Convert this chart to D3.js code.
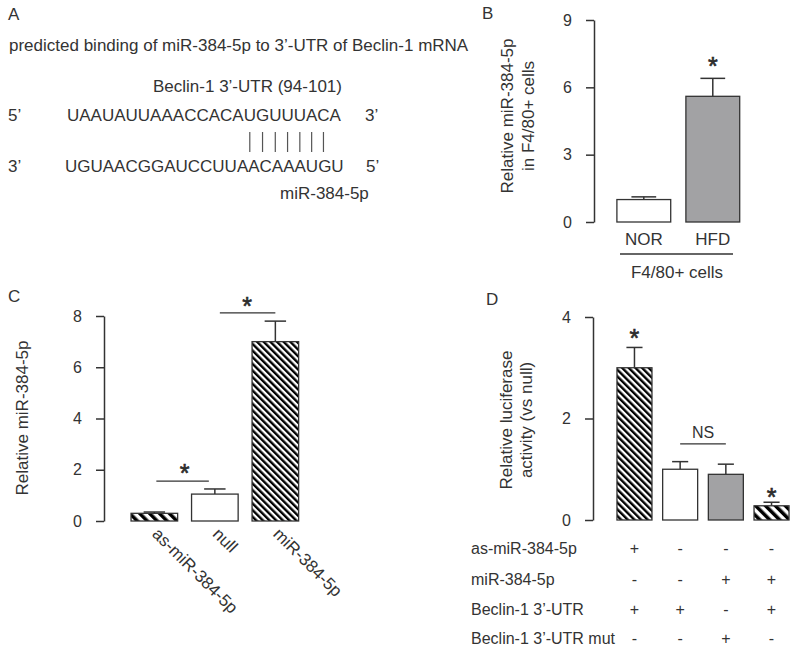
<!DOCTYPE html>
<html>
<head>
<meta charset="utf-8">
<script src="https://cdn.jsdelivr.net/npm/d3@7"></script>
<style>
body{margin:0;background:#fff}
svg{display:block;font-family:"Liberation Sans",Arial,sans-serif}
text{fill:#333}
</style>
</head>
<body>
<svg width="800" height="650"></svg>
<script>
// ---- data ----
var seqTop = 'UAAUAUUAAACCACAUGUUUACA';
var seqBottom = 'UGUAACGGAUCCUUAACAAAUGU';
var pairIdx = [15, 16, 17, 18, 19, 20, 21];

var catsB = ['NOR', 'HFD'];
var valsB = [1.0, 5.6];
var errsB = [0.12, 0.8];
var ticksB = [0, 3, 6, 9];

var catsC = ['as-miR-384-5p', 'null', 'miR-384-5p'];
var valsC = [0.3, 1.05, 7.0];
var errsC = [0.05, 0.2, 0.8];
var ticksC = [0, 2, 4, 6, 8];

var catsD = ['1', '2', '3', '4'];
var valsD = [3.0, 1.0, 0.9, 0.28];
var errsD = [0.4, 0.15, 0.2, 0.07];
var ticksD = [0, 2, 4];
var rowLabelsD = ['as-miR-384-5p', 'miR-384-5p', 'Beclin-1 3\u2019-UTR', 'Beclin-1 3\u2019-UTR mut'];
var rowSignsD = [
  ['+', '-', '-', '-'],
  ['-', '-', '+', '+'],
  ['+', '+', '-', '+'],
  ['-', '-', '+', '-']
];

var INK = '#333';
var GRAY = '#a2a2a4';
var fillsB = ['#fff', GRAY];
var fillsC = ['url(#hatchCoarse)', '#fff', 'url(#hatchFine)'];
var fillsD = ['url(#hatchFine)', '#fff', GRAY, 'url(#hatchCoarse)'];

var svg = d3.select('svg');

// hatch patterns
var defs = svg.append('defs');
var makeHatch = function(id, period, w){
  var p = defs.append('pattern')
    .attr('id', id)
    .attr('patternUnits', 'userSpaceOnUse')
    .attr('width', period).attr('height', period)
    .attr('patternTransform', 'rotate(-45)');
  p.append('rect').attr('width', period).attr('height', period).attr('fill', '#fff');
  p.append('rect').attr('width', w).attr('height', period).attr('fill', '#000');
};
makeHatch('hatchFine', 4.7, 2.4);
makeHatch('hatchCoarse', 7, 3.5);

var label = function(x, y, t, size){
  return svg.append('text').attr('x', x).attr('y', y)
    .attr('font-size', size || 17).text(t);
};

// ---- panel A ----
label(8, 20, 'A');
label(9, 51, 'predicted binding of miR-384-5p to 3\u2019-UTR of Beclin-1 mRNA');
label(153, 92, 'Beclin-1 3\u2019-UTR (94-101)');
label(8, 121, '5\u2019');
var topSeq = label(67, 121, seqTop);
label(365, 121, '3\u2019');
label(8, 172, '3\u2019');
label(65, 172, seqBottom);
label(366, 172, '5\u2019');
label(280, 199, 'miR-384-5p');

// pairing marks under the matched bases of the top strand
var node = topSeq.node();
var charMid = function(i){
  return (node.getStartPositionOfChar(i).x + node.getEndPositionOfChar(i).x) / 2;
};
svg.append('g').selectAll('line')
  .data(pairIdx)
  .enter().append('line')
  .attr('x1', charMid).attr('x2', charMid)
  .attr('y1', 132).attr('y2', 152)
  .attr('stroke', '#555').attr('stroke-width', 1.2);

// ---- helpers ----
var yAxis = function(g, scale, ticks){
  g.call(d3.axisLeft(scale).tickValues(ticks).tickFormat(d3.format('d'))
    .tickSize(8).tickSizeOuter(0).tickPadding(14));
  g.attr('font-family', null).attr('font-size', 16).attr('color', INK);
  g.select('.domain').attr('stroke-width', 1.5);
  g.selectAll('.tick line').attr('stroke-width', 1.5);
};

var bars = function(g, x, y, cats, vals, errs, fills){
  var capW = x.bandwidth() * 0.46;
  cats.forEach(function(c, i){
    var cx = x(c) + x.bandwidth() / 2;
    g.append('line')
      .attr('x1', cx).attr('x2', cx)
      .attr('y1', y(vals[i])).attr('y2', y(vals[i] + errs[i]))
      .attr('stroke', INK).attr('stroke-width', 1.5);
    g.append('line')
      .attr('x1', cx - capW / 2).attr('x2', cx + capW / 2)
      .attr('y1', y(vals[i] + errs[i])).attr('y2', y(vals[i] + errs[i]))
      .attr('stroke', INK).attr('stroke-width', 1.5);
  });
  g.selectAll('rect.bar')
    .data(cats)
    .enter().append('rect')
    .attr('class', 'bar')
    .attr('x', function(d){ return x(d); })
    .attr('width', x.bandwidth())
    .attr('y', function(d, i){ return y(vals[i]); })
    .attr('height', function(d, i){ return y(0) - y(vals[i]); })
    .attr('fill', function(d, i){ return fills[i]; })
    .attr('stroke', INK).attr('stroke-width', 1.3);
};

var star = function(x, cy){
  svg.append('text').attr('x', x).attr('y', cy + 14)
    .attr('text-anchor', 'middle').attr('font-size', 25)
    .attr('stroke', '#222').attr('stroke-width', 0.6).text('*');
};

var rotLabel = function(x, y, t){
  svg.append('text')
    .attr('transform', 'translate(' + x + ',' + y + ') rotate(-90)')
    .attr('text-anchor', 'middle').attr('font-size', 17).text(t);
};

var sigLine = function(x1, x2, y){
  svg.append('line').attr('x1', x1).attr('x2', x2).attr('y1', y).attr('y2', y)
    .attr('stroke', INK).attr('stroke-width', 1.3);
};

// ---- panel B ----
label(482, 19, 'B');
var xB = d3.scaleBand().domain(catsB).range([610, 746.6]).paddingInner(0.22).paddingOuter(0.1);
var yB = d3.scaleLinear().domain([0, 9]).range([222, 20]);
var gB = svg.append('g');
bars(gB, xB, yB, catsB, valsB, errsB, fillsB);
svg.append('g').attr('transform', 'translate(594,0)').call(yAxis, yB, ticksB);
catsB.forEach(function(c){
  svg.append('text').attr('x', xB(c) + xB.bandwidth() / 2).attr('y', 245)
    .attr('text-anchor', 'middle').attr('font-size', 17).text(c);
});
sigLine(620, 733, 254);
svg.append('text').attr('x', 677).attr('y', 278).attr('text-anchor', 'middle')
  .attr('font-size', 17).text('F4/80+ cells');
rotLabel(513, 116, 'Relative miR-384-5p');
rotLabel(534, 116, 'in F4/80+ cells');
star(xB('HFD') + xB.bandwidth() / 2, 61);

// ---- panel C ----
label(8, 302, 'C');
var xC = d3.scaleBand().domain(catsC).range([125, 304.7]).paddingInner(0.23).paddingOuter(0.1);
var yC = d3.scaleLinear().domain([0, 8]).range([521, 316]);
var gC = svg.append('g');
bars(gC, xC, yC, catsC, valsC, errsC, fillsC);
svg.append('g').attr('transform', 'translate(104,0)').call(yAxis, yC, ticksC);
catsC.forEach(function(c){
  svg.append('text')
    .attr('transform', 'translate(' + (xC(c) + xC.bandwidth() / 2 - 3) + ',535) rotate(45)')
    .attr('font-size', 17).text(c);
});
rotLabel(28, 418, 'Relative miR-384-5p');
var cC = function(c){ return xC(c) + xC.bandwidth() / 2; };
sigLine(cC('as-miR-384-5p') + 2, cC('null') - 6, yC(1.56));
star((cC('as-miR-384-5p') + cC('null')) / 2, yC(1.56) - 13);
sigLine(cC('null') + 5, cC('miR-384-5p'), yC(8.12));
star((cC('null') + cC('miR-384-5p')) / 2 + 2, yC(8.12) - 12);

// ---- panel D ----
label(486, 305, 'D');
var xD = d3.scaleBand().domain(catsD).range([612.4, 793.6]).paddingInner(0.234).paddingOuter(0.1);
var yD = d3.scaleLinear().domain([0, 4]).range([520, 317]);
var gD = svg.append('g');
bars(gD, xD, yD, catsD, valsD, errsD, fillsD);
svg.append('g').attr('transform', 'translate(593,0)').call(yAxis, yD, ticksD);
rotLabel(512, 420, 'Relative luciferase');
rotLabel(532, 420, 'activity (vs null)');
var cD = function(c){ return xD(c) + xD.bandwidth() / 2; };
star(cD('1'), 333);
star(cD('4'), 492);
sigLine(cD('2'), cD('3'), yD(1.5));
svg.append('text').attr('x', (cD('2') + cD('3')) / 2).attr('y', 438)
  .attr('text-anchor', 'middle').attr('font-size', 16).text('NS');

// condition table under panel D
var rowY = [554, 585, 615, 644];
rowLabelsD.forEach(function(t, r){
  label(471, rowY[r], t, 16);
  rowSignsD[r].forEach(function(s, i){
    svg.append('text').attr('x', cD(catsD[i])).attr('y', rowY[r])
      .attr('text-anchor', 'middle').attr('font-size', 16).text(s);
  });
});
</script>
</body>
</html>
